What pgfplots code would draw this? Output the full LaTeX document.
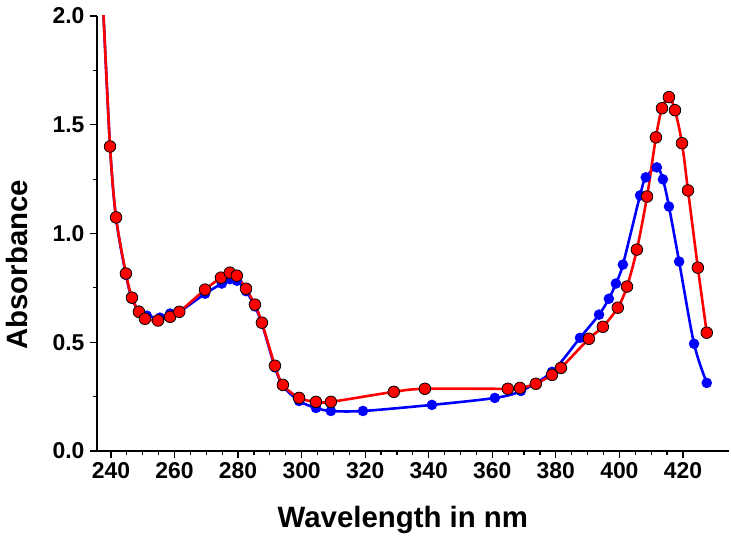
\documentclass[border=0pt]{standalone}
\usepackage{fontspec}
\setmainfont{Liberation Sans}
\usepackage{pgfplots}
\pgfplotsset{compat=1.18}
\begin{document}
\begin{tikzpicture}
\begin{axis}[
  scale only axis,
  width=632bp, height=435bp,
  xmin=235.6, xmax=434.5,
  ymin=0, ymax=2.0,
  axis x line*=bottom, axis y line*=left,
  axis line style={line width=1.4bp, black},
  xtick={240,260,...,420},
  ytick={0,0.5,...,2.0},
  minor x tick num=3,
  minor y tick num=1,
  tick align=outside,
  major tick length=7bp, minor tick length=4bp,
  every tick/.style={black, line width=1.2bp},
  /pgf/number format/assume math mode=true,
  yticklabel style={/pgf/number format/fixed, /pgf/number format/fixed zerofill, /pgf/number format/precision=1},
  ticklabel style={font=\bfseries\fontsize{23}{23}\selectfont},
  xticklabel style={yshift=-1bp},
  yticklabel style={xshift=-2bp},
  xlabel={Wavelength in nm},
  ylabel={Absorbance},
  label style={font=\bfseries\fontsize{29.5}{29.5}\selectfont},
  xlabel style={at={(axis description cs:0.484,-0.1586)}, anchor=center},
  ylabel style={at={(axis description cs:-0.1266,0.428)}, anchor=center, rotate=0},
  clip=true,
]
\addplot[blue, line width=2.6bp, smooth, mark=*, mark size=5bp,
  mark options={fill=blue, draw=blue, line width=0.5bp}, mark indices={1,...,80}]
  coordinates {
  (237.5,2.05) (239.7,1.40) (241.6,1.07) (244.7,0.81) (246.6,0.70) (248.8,0.645)
  (251.3,0.622) (255.4,0.613) (258.6,0.632) (261.5,0.64) (269.6,0.723)
  (274.9,0.77) (277.4,0.79) (279.6,0.783) (282.5,0.735) (285.3,0.665)
  (287.5,0.585) (291.6,0.385) (294.1,0.30) (299.2,0.23) (304.5,0.198)
  (309.2,0.184) (319.3,0.184) (341.0,0.212) (360.8,0.244) (369.0,0.276)
  (378.8,0.364) (387.6,0.52) (393.6,0.627) (396.7,0.70) (398.9,0.77)
  (401.1,0.857) (406.5,1.175) (408.3,1.258) (411.8,1.304) (413.7,1.249)
  (415.6,1.124) (418.8,0.871) (423.5,0.493) (427.5,0.313)
  };
\addplot[red, line width=2.6bp, smooth, mark=*, mark size=5.8bp,
  mark options={fill=red, draw=black, line width=0.8bp}, mark indices={1,...,80}]
  coordinates {
  (237.5,2.05) (239.7,1.40) (241.6,1.074) (244.7,0.816) (246.6,0.705) (248.8,0.64)
  (250.7,0.608) (254.8,0.60) (258.6,0.617) (261.5,0.64) (269.6,0.742)
  (274.6,0.797) (277.4,0.82) (279.6,0.806) (282.5,0.746) (285.3,0.673)
  (287.5,0.59) (291.6,0.392) (294.1,0.304) (299.2,0.244) (304.5,0.226)
  (309.2,0.226) (329.0,0.272) (338.8,0.286) (364.9,0.286) (368.7,0.29)
  (373.7,0.309) (378.8,0.35) (381.6,0.382) (390.4,0.516) (394.8,0.571)
  (399.5,0.659) (402.4,0.756) (405.5,0.926) (408.7,1.17) (411.5,1.442)
  (413.4,1.576) (415.6,1.627) (417.5,1.567) (419.7,1.415) (421.6,1.198)
  (424.7,0.843) (427.5,0.544)
  };
\end{axis}
\pgfresetboundingbox
\path[use as bounding box] (-97bp,-96bp) rectangle (634bp,451bp);
\end{tikzpicture}
\end{document}
